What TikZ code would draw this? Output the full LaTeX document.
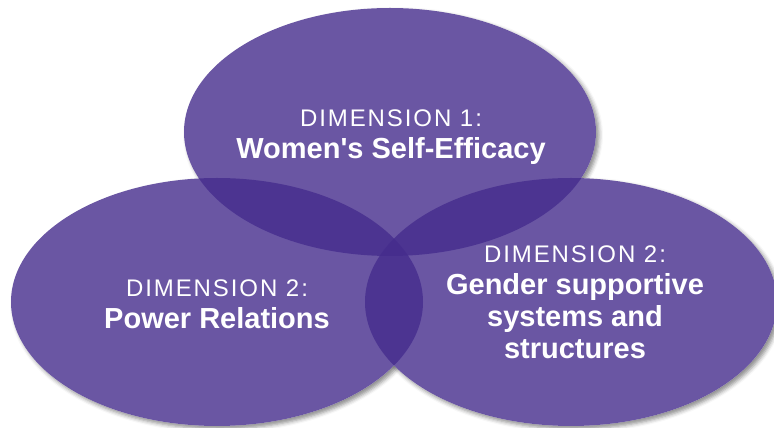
\documentclass[tikz,border=0pt]{standalone}
\usepackage{fontspec}
\setmainfont{Liberation Sans}
\newfontfamily\dimfont[LetterSpace=8]{Liberation Sans}
\usetikzlibrary{shapes.geometric,shadows.blur}
\definecolor{dimpurple}{RGB}{69,44,141}

\begin{document}
\begin{tikzpicture}[x=1pt,y=1pt,
		dimension/.style={ellipse, draw=none, fill=dimpurple, fill opacity=0.8,
			minimum width=412pt, minimum height=248pt, inner sep=0pt},
		dimshadow/.style={blur shadow={shadow xshift=3pt, shadow yshift=-3pt,
			shadow blur radius=4pt, shadow opacity=45}},
		dimtext/.style={text=white, align=center, text depth=0pt,
			font=\fontsize{29}{32}\selectfont\bfseries}]
		\newcommand{\dimhead}[1]{{\dimfont\mdseries\fontsize{24}{32}\selectfont #1}}
		\useasboundingbox (0,0) rectangle (774,428);

		\coordinate (p1) at (390,296);
		\coordinate (p2) at (217,126);
		\coordinate (p3) at (571,126);

		% shadows first, then a white backing so they do not show through
		\foreach \p in {p1,p2,p3}
			\path[dimshadow] (\p) ellipse (206pt and 124pt);
		\foreach \p in {p1,p2,p3}
			\fill[white] (\p) ellipse (206pt and 124pt);

		\node[dimension] (dim1) at (p1) {};
		\node[dimension] (dim2) at (p2) {};
		\node[dimension] (dim3) at (p3) {};

		\node[dimtext] (lab1) at (391,294) {\dimhead{DIMENSION 1:}\\Women\textquotesingle s Self-Efficacy};
		\node[dimtext] (lab2) at (217,124) {\dimhead{DIMENSION 2:}\\Power Relations};
		\node[dimtext] (lab3) at (575,126) {\dimhead{DIMENSION 2:}\\Gender supportive\\systems and\\structures};
\end{tikzpicture}
\end{document}
